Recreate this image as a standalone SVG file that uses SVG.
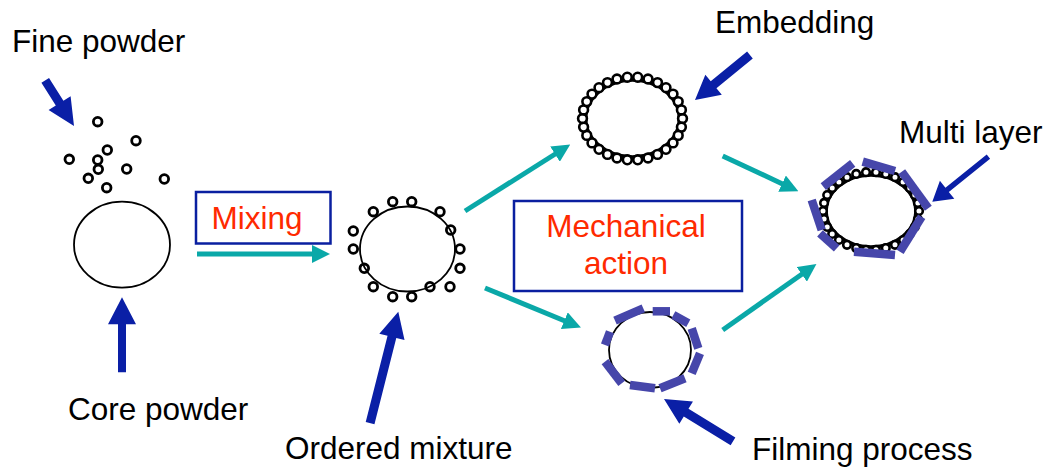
<svg xmlns="http://www.w3.org/2000/svg" width="1049" height="475" viewBox="0 0 1049 475">
<style>
.lbl{font-family:"Liberation Sans",Arial,sans-serif;font-size:31.5px;fill:#000}
.red{font-family:"Liberation Sans",Arial,sans-serif;font-size:31.5px;fill:#ff2a00}
.box{fill:#fff;stroke:#0a1fa0;stroke-width:2.5}
.barrow{fill:#0a1fa6}
.teal{stroke:#0aa8a8;stroke-width:5;fill:none}
.dot{fill:none;stroke:#000;stroke-width:2.8}
.wdot{fill:#fff;stroke:#000;stroke-width:2.6}
.core{fill:#fff;stroke:#000;stroke-width:1.8}
.bar{stroke:#4646aa;stroke-width:8.5;fill:none}
</style>
<defs>
<marker id="th" viewBox="0 0 18 18" refX="4" refY="9" markerWidth="18" markerHeight="18" markerUnits="userSpaceOnUse" orient="auto">
<path d="M0,0 L18,9 L0,18 Z" fill="#0aa8a8"/>
</marker>
</defs>
<rect width="1049" height="475" fill="#fff"/>

<g id="fine-powder">
<text class="lbl" x="12" y="52">Fine powder</text>
<path class="barrow" transform="translate(74,126) rotate(57.8)" d="M0,0 L-27,-13 L-27,-4.5 L-54,-4.5 L-54,4.5 L-27,4.5 L-27,13 Z"/>
<circle class="dot" cx="97.7" cy="121.7" r="4.3"/>
<circle class="dot" cx="136" cy="140.7" r="4.3"/>
<circle class="dot" cx="107.3" cy="150" r="4.3"/>
<circle class="dot" cx="69.3" cy="159.3" r="4.3"/>
<circle class="dot" cx="97.7" cy="160" r="4.3"/>
<circle class="dot" cx="98.3" cy="169.3" r="4.3"/>
<circle class="dot" cx="126.7" cy="169" r="4.3"/>
<circle class="dot" cx="88.3" cy="178.3" r="4.3"/>
<circle class="dot" cx="164.3" cy="179" r="4.3"/>
<circle class="dot" cx="106.7" cy="187.7" r="4.3"/>
</g>

<g id="core-powder">
<ellipse class="core" cx="122" cy="244.7" rx="48" ry="43"/>
<path class="barrow" transform="translate(122,297.3) rotate(-90)" d="M0,0 L-27,-14 L-27,-4 L-75,-4 L-75,4 L-27,4 L-27,14 Z"/>
<text class="lbl" x="68" y="420">Core powder</text>
</g>

<g id="mixing">
<rect class="box" x="196" y="192" width="134.5" height="51.5"/>
<text class="red" x="211.5" y="229">Mixing</text>
</g>

<g id="ordered-mixture">
<ellipse class="core" cx="407.5" cy="249" rx="47.5" ry="42.5"/>
<circle class="dot" cx="392.7" cy="201.7" r="4.3"/>
<circle class="dot" cx="411.7" cy="201.7" r="4.3"/>
<circle class="dot" cx="373.3" cy="211.7" r="4.3"/>
<circle class="dot" cx="440" cy="211.7" r="4.3"/>
<circle class="dot" cx="353.3" cy="231" r="4.3"/>
<circle class="dot" cx="450.7" cy="230" r="4.3"/>
<circle class="dot" cx="353.3" cy="249" r="4.3"/>
<circle class="dot" cx="460" cy="249" r="4.3"/>
<circle class="dot" cx="364.3" cy="268.3" r="4.3"/>
<circle class="dot" cx="460" cy="268.3" r="4.3"/>
<circle class="dot" cx="373.3" cy="286.7" r="4.3"/>
<circle class="dot" cx="430" cy="286.7" r="4.3"/>
<circle class="dot" cx="450" cy="286.7" r="4.3"/>
<circle class="dot" cx="392.7" cy="296.7" r="4.3"/>
<circle class="dot" cx="411.7" cy="296.7" r="4.3"/>
<path class="barrow" transform="translate(398.3,311.7) rotate(-75.8)" d="M0,0 L-26,-13 L-26,-4.5 L-115,-4.5 L-115,4.5 L-26,4.5 L-26,13 Z"/>
<text class="lbl" x="285" y="459">Ordered mixture</text>
</g>

<g id="mechanical-action">
<rect class="box" x="514" y="201" width="228" height="90"/>
<text class="red" x="626" y="237" text-anchor="middle">Mechanical</text>
<text class="red" x="626" y="274" text-anchor="middle">action</text>
</g>

<g id="embedding">
<text class="lbl" x="715" y="33">Embedding</text>
<path class="barrow" transform="translate(695,100) rotate(140.7)" d="M0,0 L-24,-13 L-24,-4.5 L-71,-4.5 L-71,4.5 L-24,4.5 L-24,13 Z"/>
<ellipse cx="632.5" cy="118.5" rx="47" ry="38.5" fill="#fff" stroke="#000" stroke-width="3.5"/>
<g class="wdot">
<circle cx="682.5" cy="118.5" r="4.4"/><circle cx="681.4" cy="127.1" r="4.4"/><circle cx="678.2" cy="135.4" r="4.4"/><circle cx="673" cy="142.9" r="4.4"/><circle cx="666" cy="149.3" r="4.4"/><circle cx="657.5" cy="154.4" r="4.4"/><circle cx="648" cy="158" r="4.4"/><circle cx="637.7" cy="159.8" r="4.4"/><circle cx="627.3" cy="159.8" r="4.4"/><circle cx="617" cy="158" r="4.4"/><circle cx="607.5" cy="154.4" r="4.4"/><circle cx="599" cy="149.3" r="4.4"/><circle cx="592" cy="142.9" r="4.4"/><circle cx="586.8" cy="135.4" r="4.4"/><circle cx="583.6" cy="127.1" r="4.4"/><circle cx="582.5" cy="118.5" r="4.4"/>
<circle cx="583.6" cy="109.9" r="4.4"/><circle cx="586.8" cy="101.6" r="4.4"/><circle cx="592" cy="94.1" r="4.4"/><circle cx="599" cy="87.7" r="4.4"/><circle cx="607.5" cy="82.6" r="4.4"/><circle cx="617" cy="79" r="4.4"/><circle cx="627.3" cy="77.2" r="4.4"/><circle cx="637.7" cy="77.2" r="4.4"/><circle cx="648" cy="79" r="4.4"/><circle cx="657.5" cy="82.6" r="4.4"/><circle cx="666" cy="87.7" r="4.4"/><circle cx="673" cy="94.1" r="4.4"/><circle cx="678.2" cy="101.6" r="4.4"/><circle cx="681.4" cy="109.9" r="4.4"/>
</g>
</g>

<g id="filming-process">
<ellipse class="core" cx="650" cy="350" rx="41" ry="38" stroke-width="2.5"/>
<g class="bar">
<line x1="652.7" y1="311.3" x2="670" y2="311.3"/>
<line x1="615" y1="320.7" x2="643.3" y2="308.3"/>
<line x1="673.3" y1="315" x2="688.3" y2="323.3"/>
<line x1="691.7" y1="328.3" x2="698.3" y2="348.3"/>
<line x1="700" y1="353.3" x2="691.7" y2="373.3"/>
<line x1="685" y1="378.3" x2="660" y2="388.3"/>
<line x1="655" y1="388.3" x2="630" y2="385"/>
<line x1="621.7" y1="383.3" x2="605" y2="361.7"/>
<line x1="610" y1="331.7" x2="605" y2="345"/>
</g>
<path class="barrow" transform="translate(664,399) rotate(211.6)" d="M0,0 L-26,-13 L-26,-4.5 L-81,-4.5 L-81,4.5 L-26,4.5 L-26,13 Z"/>
<text class="lbl" x="752" y="460">Filming process</text>
</g>

<g id="multi-layer">
<text class="lbl" x="899" y="143">Multi layer</text>
<path class="barrow" transform="translate(932.3,201.7) rotate(141.2)" d="M0,0 L-19,-11.5 L-19,-2.7 L-72,-2.7 L-72,2.7 L-19,2.7 L-19,11.5 Z"/>
<ellipse cx="871" cy="211" rx="45" ry="36" fill="#fff" stroke="#000" stroke-width="3.5"/>
<g class="wdot">
<circle cx="919" cy="211" r="3.8"/><circle cx="917.9" cy="219.1" r="3.8"/><circle cx="914.8" cy="226.9" r="3.8"/><circle cx="909.8" cy="233.9" r="3.8"/><circle cx="903.1" cy="240" r="3.8"/><circle cx="895" cy="244.8" r="3.8"/><circle cx="885.8" cy="248.1" r="3.8"/><circle cx="876" cy="249.8" r="3.8"/><circle cx="866" cy="249.8" r="3.8"/><circle cx="856.2" cy="248.1" r="3.8"/><circle cx="847" cy="244.8" r="3.8"/><circle cx="838.9" cy="240" r="3.8"/><circle cx="832.2" cy="233.9" r="3.8"/><circle cx="827.2" cy="226.9" r="3.8"/><circle cx="824.1" cy="219.1" r="3.8"/><circle cx="823" cy="211" r="3.8"/>
<circle cx="824.1" cy="202.9" r="3.8"/><circle cx="827.2" cy="195.1" r="3.8"/><circle cx="832.2" cy="188.1" r="3.8"/><circle cx="838.9" cy="182" r="3.8"/><circle cx="847" cy="177.2" r="3.8"/><circle cx="856.2" cy="173.9" r="3.8"/><circle cx="866" cy="172.2" r="3.8"/><circle cx="876" cy="172.2" r="3.8"/><circle cx="885.8" cy="173.9" r="3.8"/><circle cx="895" cy="177.2" r="3.8"/><circle cx="903.1" cy="182" r="3.8"/><circle cx="909.8" cy="188.1" r="3.8"/><circle cx="914.8" cy="195.1" r="3.8"/><circle cx="917.9" cy="202.9" r="3.8"/>
</g>
<g class="bar">
<line x1="823.3" y1="186.7" x2="852.7" y2="163.3"/>
<line x1="862.7" y1="161.7" x2="895" y2="171"/>
<line x1="901.7" y1="171.7" x2="928.3" y2="208.3"/>
<line x1="921.7" y1="216.7" x2="900" y2="251.7"/>
<line x1="895" y1="255" x2="854" y2="251.7"/>
<line x1="836.7" y1="248.3" x2="820" y2="233.3"/>
<line x1="811.7" y1="200" x2="821.7" y2="230"/>
</g>
</g>

<g id="connectors">
<line class="teal" x1="197" y1="254" x2="316" y2="254" marker-end="url(#th)"/>
<line class="teal" x1="465" y1="211" x2="558.4" y2="152" marker-end="url(#th)"/>
<line class="teal" x1="485" y1="288" x2="568" y2="322.2" marker-end="url(#th)"/>
<line class="teal" x1="722.7" y1="156" x2="785.7" y2="185.4" marker-end="url(#th)"/>
<line class="teal" x1="722.7" y1="330" x2="805" y2="272" marker-end="url(#th)"/>
</g>
</svg>
